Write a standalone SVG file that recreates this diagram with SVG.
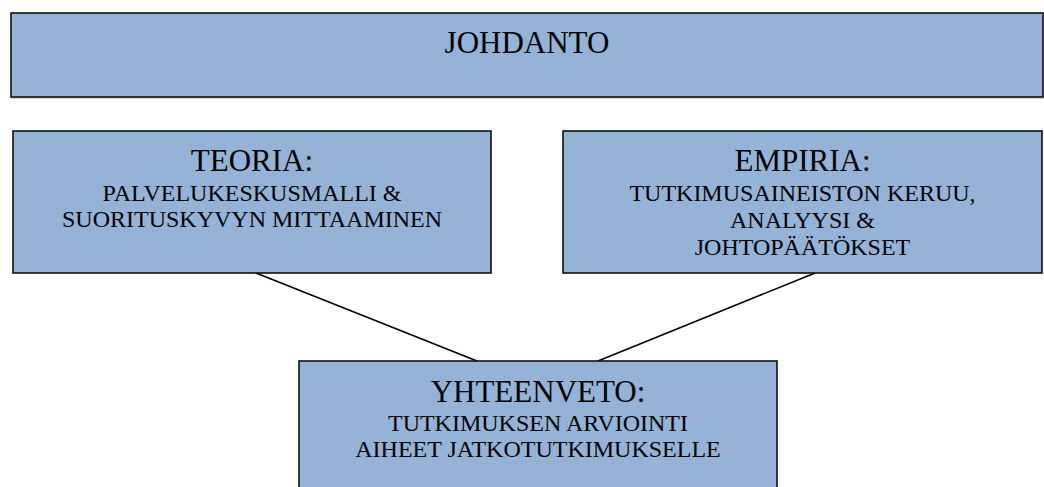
<svg xmlns="http://www.w3.org/2000/svg" width="1044" height="487" viewBox="0 0 1044 487">
  <style>
    .box { fill: #95b3d7; stroke: #111; stroke-width: 1.6; }
    .head { font-family: 'Liberation Serif', 'Times New Roman', serif; font-size: 31px; fill: #000; text-anchor: middle; }
    .sub { font-family: 'Liberation Serif', 'Times New Roman', serif; font-size: 24px; fill: #000; text-anchor: middle; }
    .link { stroke: #000; stroke-width: 1.6; fill: none; }
  </style>
  <rect width="1044" height="487" fill="#fff"/>

  <!-- connectors -->
  <g id="connectors">
    <line class="link" x1="256" y1="273" x2="477" y2="361"/>
    <line class="link" x1="815" y1="273" x2="598" y2="361"/>
  </g>

  <!-- intro banner -->
  <g id="johdanto">
    <line x1="11" y1="98" x2="1044" y2="98" stroke="#c8c8c8" stroke-width="1.5"/>
    <rect class="box" x="11" y="13" width="1032" height="84" stroke-width="2.2"/>
    <text class="head" x="527" y="53">JOHDANTO</text>
  </g>

  <!-- theory -->
  <g id="teoria">
    <rect class="box" x="13" y="131" width="478" height="142"/>
    <text class="head" x="252" y="171">TEORIA:</text>
    <text class="sub" x="252" y="201">PALVELUKESKUSMALLI &amp;</text>
    <text class="sub" x="252" y="227">SUORITUSKYVYN MITTAAMINEN</text>
  </g>

  <!-- empirical part -->
  <g id="empiria">
    <rect class="box" x="563" y="131" width="479" height="142"/>
    <text class="head" x="802.5" y="171">EMPIRIA:</text>
    <text class="sub" x="802.5" y="201">TUTKIMUSAINEISTON KERUU,</text>
    <text class="sub" x="802.5" y="228">ANALYYSI &amp;</text>
    <text class="sub" x="802.5" y="255">JOHTOPÄÄTÖKSET</text>
  </g>

  <!-- summary -->
  <g id="yhteenveto">
    <rect class="box" x="299" y="361" width="478" height="140"/>
    <text class="head" x="538" y="402">YHTEENVETO:</text>
    <text class="sub" x="538" y="431">TUTKIMUKSEN ARVIOINTI</text>
    <text class="sub" x="538" y="457">AIHEET JATKOTUTKIMUKSELLE</text>
  </g>
</svg>
